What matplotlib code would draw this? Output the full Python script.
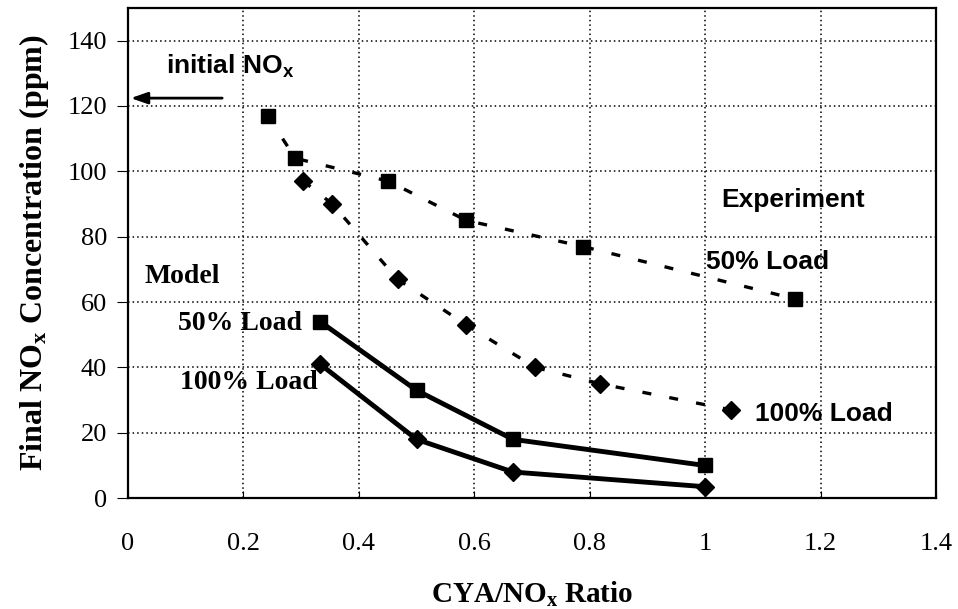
import matplotlib
matplotlib.use('Agg')
import matplotlib.pyplot as plt

plt.rcParams['mathtext.default'] = 'regular'

SERIF = 'Liberation Serif'
SANS = 'Liberation Sans'

# Experiment series (dotted)
exp50_x = [0.242, 0.290, 0.451, 0.586, 0.788, 1.155]
exp50_y = [117, 104, 97, 85, 77, 61]
exp100_x = [0.304, 0.354, 0.467, 0.586, 0.706, 0.818, 1.045]
exp100_y = [97, 90, 67, 53, 40, 35, 27]

# Model series (solid)
model_x = [0.333, 0.5, 0.667, 1.0]
model50_y = [54, 33, 18, 10]
model100_y = [41, 18, 8, 3.5]

initial_nox = 122.4

xticks = [0, 0.2, 0.4, 0.6, 0.8, 1, 1.2, 1.4]
xtick_labels = ['0', '0.2', '0.4', '0.6', '0.8', '1', '1.2', '1.4']
yticks = [0, 20, 40, 60, 80, 100, 120, 140]

fig = plt.figure(figsize=(9.58, 6.09), dpi=100)
ax = fig.add_axes([0.1336, 0.182, 0.8434, 0.805])

dotted = (0, (2.7, 5.5))
ax.plot(exp50_x, exp50_y, color='black', lw=2.4, linestyle=dotted,
        marker='s', markersize=9.5, markerfacecolor='black', zorder=3)
ax.plot(exp100_x, exp100_y, color='black', lw=2.4, linestyle=dotted,
        marker='D', markersize=9, markerfacecolor='black', zorder=3)
ax.plot(model_x, model50_y, color='black', lw=3.5,
        marker='s', markersize=9.5, zorder=3)
ax.plot(model_x, model100_y, color='black', lw=3.5,
        marker='D', markersize=9.5, zorder=3)

ax.set_xlim(0, 1.4)
ax.set_ylim(0, 150)
ax.set_xticks(xticks)
ax.set_xticklabels(xtick_labels)
ax.set_yticks(yticks)
ax.grid(True, color='black', linestyle=(0, (1, 2)), linewidth=1.1)
ax.set_axisbelow(True)

for lbl in ax.get_xticklabels() + ax.get_yticklabels():
    lbl.set_family(SERIF)
    lbl.set_fontsize(19)
ax.tick_params(axis='x', direction='in', length=5, pad=25)
ax.tick_params(axis='y', direction='out', length=8, pad=7)

for sp in ax.spines.values():
    sp.set_linewidth(1.6)

ax.set_xlabel('CYA/NO$_x$ Ratio', family=SERIF, fontsize=21,
              fontweight='bold', labelpad=18)
ax.set_ylabel('Final NO$_x$ Concentration (ppm)', family=SERIF,
              fontsize=23, fontweight='bold', labelpad=12)

# initial NOx marker
ax.annotate('', xy=(0, initial_nox), xytext=(0.168, initial_nox),
            arrowprops=dict(arrowstyle='-|>,head_length=1.0,head_width=0.35',
                            color='black', lw=2))
ax.text(0.177, 129.7, 'initial NO$_x$', family=SANS, fontsize=19,
        fontweight='bold', ha='center', va='baseline')

# series labels
ax.text(1.028, 89.1, 'Experiment', family=SANS, fontsize=19,
        fontweight='bold', va='baseline')
ax.text(1.002, 70.0, '50% Load', family=SANS, fontsize=19,
        fontweight='bold', va='baseline')
ax.text(1.086, 23.7, '100% Load', family=SANS, fontsize=19,
        fontweight='bold', va='baseline')
ax.text(0.029, 65.8, 'Model', family=SERIF, fontsize=20,
        fontweight='bold', va='baseline')
ax.text(0.087, 51.4, '50% Load', family=SERIF, fontsize=20,
        fontweight='bold', va='baseline')
ax.text(0.09, 33.3, '100% Load', family=SERIF, fontsize=20,
        fontweight='bold', va='baseline')

fig.savefig('out.png', dpi=100)
